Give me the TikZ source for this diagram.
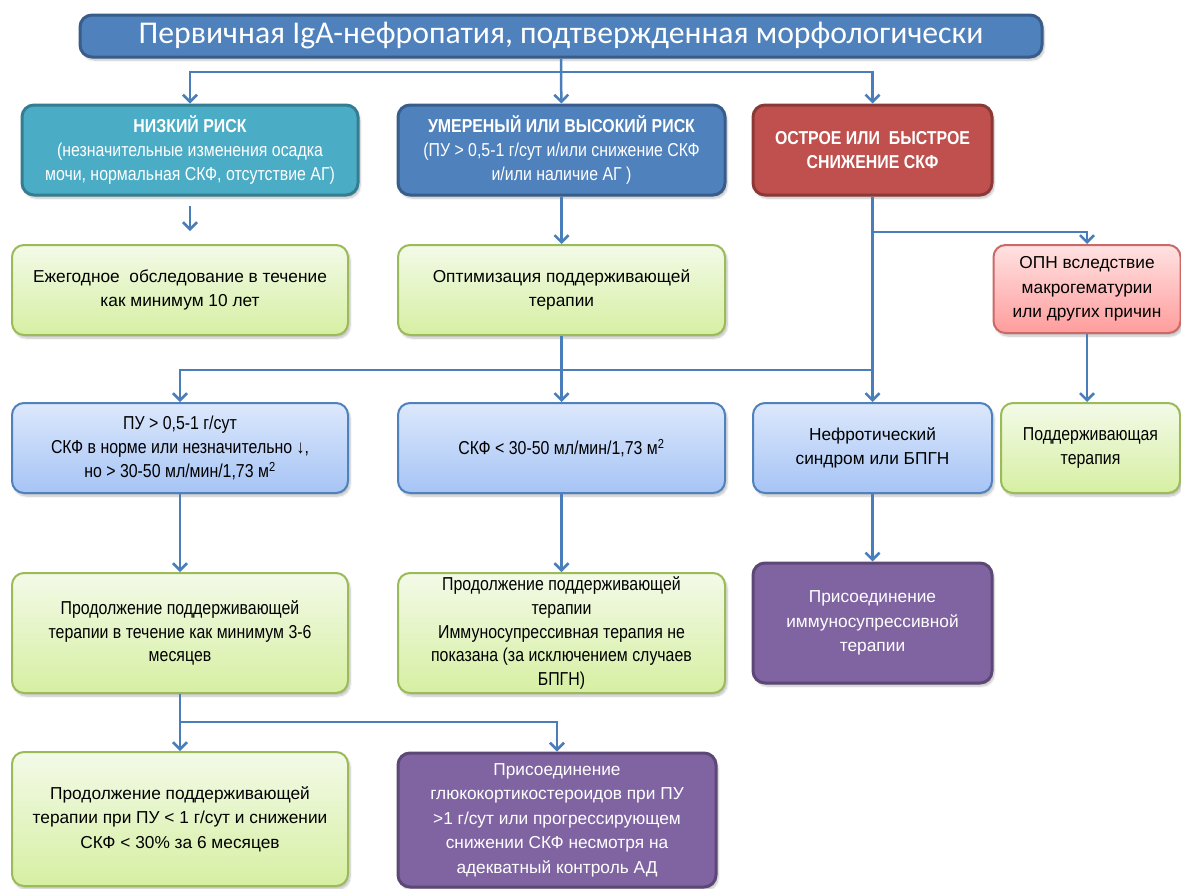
\documentclass[tikz,border=0pt]{standalone}
\usepackage{fontspec}
\setmainfont{Liberation Sans}
\newfontfamily\narrowfont[FakeStretch=0.85]{Liberation Sans}
\newfontfamily\titlefont{Carlito}
\usetikzlibrary{arrows.meta,shadows.blur}
\definecolor{accblue}{HTML}{4F81BD}
\definecolor{accblueline}{HTML}{385D8A}
\definecolor{accteal}{HTML}{4BACC6}
\definecolor{acctealline}{HTML}{357D91}
\definecolor{accred}{HTML}{C0504D}
\definecolor{accredline}{HTML}{8C3836}
\definecolor{accpurple}{HTML}{8064A2}
\definecolor{accpurpleline}{HTML}{5C4776}
\definecolor{lbtop}{HTML}{DCE8FC}
\definecolor{lbbot}{HTML}{A6C4F5}
\definecolor{lgtop}{HTML}{F3FAE8}
\definecolor{lgbot}{HTML}{D6EFA2}
\definecolor{lgline}{HTML}{9BBB59}
\definecolor{pktop}{HTML}{FFE2E2}
\definecolor{pkbot}{HTML}{FF9C9C}
\definecolor{arrowblue}{HTML}{4A7EBB}
\begin{document}
\begin{tikzpicture}[x=1pt,y=1pt,>={Straight Barb[length=7pt,width=14pt]}]
        \tikzstyle{box}=[rounded corners=12pt,align=center,inner sep=0pt,
          blur shadow={shadow xshift=2pt,shadow yshift=-3pt,shadow blur steps=6,shadow opacity=25}]
        \tikzstyle{dark}=[box,line width=3pt,text=white]
        \tikzstyle{blue}=[dark,fill=accblue,draw=accblueline]
        \tikzstyle{lowrisk}=[dark,fill=accteal,draw=acctealline]
        \tikzstyle{acute}=[dark,fill=accred,draw=accredline]
        \tikzstyle{immune}=[dark,fill=accpurple,draw=accpurpleline]
        \tikzstyle{lblue}=[box,line width=2pt,draw=accblue,top color=lbtop,bottom color=lbbot]
        \tikzstyle{lgreen}=[box,line width=2pt,draw=lgline,top color=lgtop,bottom color=lgbot]
        \tikzstyle{pink}=[box,line width=2pt,draw=accred!85,top color=pktop,bottom color=pkbot]
        \tikzstyle{txt}=[font=\fontsize{17.3}{24.5}\selectfont]
        \tikzstyle{ntxt}=[font=\narrowfont\fontsize{18.7}{23.8}\selectfont]
        \tikzstyle{edge}=[draw=arrowblue,line width=2.5pt]
       \useasboundingbox (0,0) rectangle (1181,-889);
       % top row
       \node [blue,minimum width=962,minimum height=42,font=\titlefont\fontsize{31.7}{33}\selectfont] (t) at (561,-36) {Первичная IgA-нефропатия, подтвержденная морфологически};
       \node [lowrisk,ntxt,minimum width=336,minimum height=90] (r1) at (190,-150) {\textbf{НИЗКИЙ РИСК}\\(незначительные изменения осадка\\мочи, нормальная СКФ, отсутствие АГ)};
       \node [blue,ntxt,minimum width=327,minimum height=90] (r2) at (561.5,-150) {\textbf{УМЕРЕНЫЙ ИЛИ ВЫСОКИЙ РИСК}\\(ПУ > 0,5-1 г/сут и/или снижение СКФ\\и/или наличие АГ )};
       \node [acute,ntxt,minimum width=239,minimum height=90] (r3) at (872.5,-150) {\textbf{ОСТРОЕ ИЛИ\ \ БЫСТРОЕ}\\\textbf{СНИЖЕНИЕ СКФ}};
       % second row
       \node [lgreen,txt,minimum width=336,minimum height=90] (g1) at (180,-290) {Ежегодное\ \ обследование в течение\\как минимум 10 лет};
       \node [lgreen,txt,minimum width=327,minimum height=90] (g2) at (561.5,-290) {Оптимизация поддерживающей\\терапии};
       \node [pink,txt,minimum width=187,minimum height=88] (opn) at (1087,-289) {ОПН вследствие\\макрогематурии\\или других причин};
       % third row
       \node [lblue,ntxt,minimum width=336,minimum height=90] (a) at (180,-448) {ПУ > 0,5-1 г/сут\\СКФ в норме или незначительно ↓,\\но > 30-50 мл/мин/1,73 м\textsuperscript{2}};
       \node [lblue,ntxt,minimum width=327,minimum height=90] (b) at (561.5,-448) {СКФ < 30-50 мл/мин/1,73 м\textsuperscript{2}};
       \node [lblue,txt,minimum width=239,minimum height=90] (c) at (872.5,-448) {Нефротический\\синдром или БПГН};
       \node [lgreen,ntxt,minimum width=179,minimum height=90] (d) at (1090.5,-448) {Поддерживающая\\терапия};
       % fourth row
       \node [lgreen,ntxt,minimum width=336,minimum height=120] (e) at (180,-633) {Продолжение поддерживающей\\терапии в течение как минимум 3-6\\месяцев};
       \node [lgreen,ntxt,minimum width=327,minimum height=120] (f) at (561.5,-633) {Продолжение поддерживающей\\терапии\\Иммуносупрессивная терапия не\\показана (за исключением случаев\\БПГН)};
       \node [immune,txt,minimum width=239,minimum height=120] (g) at (872.5,-623) {Присоединение\\иммуносупрессивной\\терапии};
       % last row
       \node [lgreen,txt,minimum width=336,minimum height=134] (h) at (180,-819) {Продолжение поддерживающей\\терапии при ПУ < 1 г/сут и снижении\\СКФ < 30\% за 6 месяцев};
       \node [immune,txt,minimum width=318,minimum height=134] (i) at (557,-820) {Присоединение\\глюкокортикостероидов при ПУ\\>1 г/сут или прогрессирующем\\снижении СКФ несмотря на\\адекватный контроль АД};
       % connectors
       \coordinate (j1) at (561,-72);
       \coordinate (j2) at (873,-232);
       \coordinate (j4) at (561,-370);
       \coordinate (j5) at (180,-722);
       \path[edge,->] (t) -- (r2);
       \path[edge,->] (j1) -| (r1.north);
       \path[edge,->] (j1) -| (r3.north);
       \path[edge,->,shorten <=9pt,shorten >=13pt] (r1.south) -- (r1.south |- g1.north);
       \path[edge,->] (r2) -- (g2);
       \path[edge,->] (r3.south) -- (c.north);
       \path[edge,->] (j2) -| (opn.north);
       \path[edge,->] (opn.south) -- (opn.south |- d.north);
       \path[edge,->] (g2) -- (b);
       \path[edge,->] (j4) -| (a.north);
       \path[edge] (j4) -- (j4 -| c.north);
       \path[edge,->] (a) -- (e);
       \path[edge,->] (b) -- (f);
       \path[edge,->] (c) -- (g);
       \path[edge,->] (e) -- (h);
       \path[edge,->] (j5) -| (i.north);
\end{tikzpicture}
\end{document}
